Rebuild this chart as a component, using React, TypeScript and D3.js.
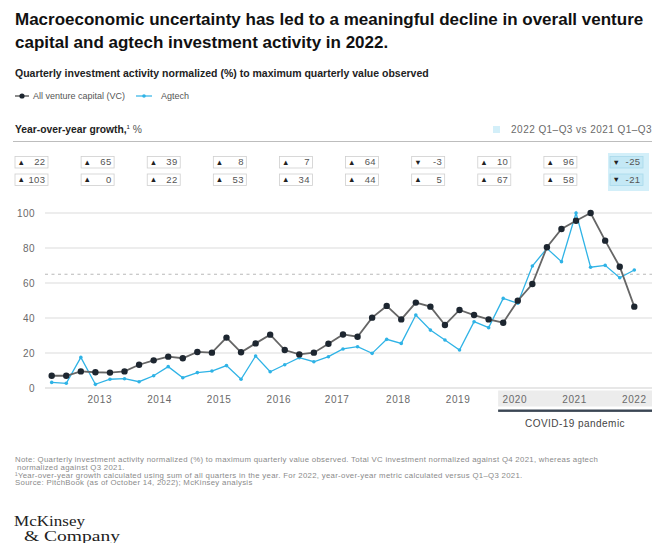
import React from "react";
import * as d3 from "d3";

const quarterLabels = d3.range(41).map((i) => {
  const q = 2 + i; // starts 2012 Q3
  return `${2012 + Math.floor(q / 4)} Q${(q % 4) + 1}`;
});
const vcValues = [7, 7, 9.5, 9, 8.8, 9.5, 13.3, 15.8, 17.9, 17, 20.6, 20.2, 28.8, 20.4, 25.5, 30.5, 21.7, 19.2, 20.2, 25.3, 30.6, 29.3, 40.2, 46.9, 39.2, 48.8, 46.5, 36, 44.6, 41.7, 39.2, 37.3, 49.9, 59.4, 80.4, 90.9, 95.6, 100, 84.2, 69.3, 46.5];
const agValues = [3.2, 2.7, 17.5, 2.1, 5, 5.3, 3.6, 7, 12.2, 5.9, 8.8, 9.7, 12.8, 5, 18.3, 9.3, 13.3, 17.3, 15, 17.9, 22.3, 23.6, 19.8, 27.8, 25.5, 41.7, 33.1, 27.4, 21.7, 37.9, 34.5, 51.2, 48.4, 69.7, 79.8, 72.2, 100, 69, 70.1, 63, 67.4];
const years = ["2013", "2014", "2015", "2016", "2017", "2018", "2019", "2020", "2021", "2022"];
const yearTickIndex = [3.3, 7.4, 11.5, 15.6, 19.6, 23.8, 27.9, 31.8, 35.9, 40];
const vcGrowth = [22, 65, 39, 8, 7, 64, -3, 10, 96, -25];
const agGrowth = [103, 0, 22, 53, 34, 44, 5, 67, 58, -21];
const yTicks = [0, 20, 40, 60, 80, 100];
const referenceLevel = 65;
const covidStartIndex = 30.65;

const FONT = "'Liberation Sans', Arial, Helvetica, sans-serif";
const SERIF = "'Liberation Serif', 'DejaVu Serif', serif";
const VC_LINE = "#666";
const VC_DOT = "#1d2630";
const AG = "#2fb3e6";
const HIGHLIGHT = "#d3eff9";
const GREY_TXT = "#6a6a6a";

export default function App() {
  const x = d3.scaleLinear().domain([0, 40]).range([51.7, 634.3]);
  const y = d3.scaleLinear().domain([0, 100]).range([388, 213]);
  const plotLeft = 45;
  const plotRight = 652;
  const line = d3
    .line<number>()
    .x((_, i) => x(i))
    .y((d) => y(d));

  const boxCol = d3.scaleLinear().domain([0, 9]).range([15, 610]);
  const boxW = 33;
  const boxH = 11.5;
  const rowY = [156.5, 174];

  const renderBox = (v: number, i: number, row: number) => {
    const bx = boxCol(i);
    const by = rowY[row];
    const last = i === 9;
    return (
      <g key={`b${row}-${i}`}>
        <rect x={bx} y={by} width={boxW} height={boxH} fill={last ? "#c4e8f5" : "#fff"} stroke={last ? "#a9d9ea" : "#cfcfcf"} strokeWidth={0.8} />
        <text x={bx + 2.5} y={by + 8.4} fontSize={7.5} fill="#222">{v < 0 ? "▼" : "▲"}</text>
        <text x={bx + boxW - 2.5} y={by + 8.9} fontSize={9.5} letterSpacing={0.4} fill="#555" textAnchor="end">{v}</text>
      </g>
    );
  };

  return (
    <svg width={664} height={543} style={{ position: "absolute", left: 0, top: 0, background: "#fff" }} fontFamily={FONT}>
      <rect width={664} height={543} fill="#fff" />
      {/* Title */}
      <text x={15} y={25} fontSize={17} fontWeight="bold" fill="#111">Macroeconomic uncertainty has led to a meaningful decline in overall venture</text>
      <text x={15} y={47.5} fontSize={17} fontWeight="bold" fill="#111">capital and agtech investment activity in 2022.</text>
      <text x={15} y={77} fontSize={10.5} fontWeight="bold" fill="#222">Quarterly investment activity normalized (%) to maximum quarterly value observed</text>

      {/* Legend */}
      <g>
        <line x1={15} x2={29} y1={96} y2={96} stroke={VC_LINE} strokeWidth={1.5} />
        <circle cx={22} cy={96} r={2.6} fill={VC_DOT} />
        <text x={33} y={99} fontSize={9} fill="#555">All venture capital (VC)</text>
        <line x1={136} x2={152} y1={96} y2={96} stroke={AG} strokeWidth={1.2} />
        <circle cx={144} cy={96} r={1.8} fill={AG} />
        <text x={161} y={99} fontSize={9} fill="#555">Agtech</text>
      </g>

      {/* YoY header */}
      <text x={15} y={133} fontSize={10.3} fill="#222">
        <tspan fontWeight="bold">Year-over-year growth,</tspan>
        <tspan fontSize={6} dy={-4}>1</tspan>
        <tspan dy={4} fill="#555"> %</tspan>
      </text>
      <rect x={493} y={126} width={7} height={7} fill={HIGHLIGHT} />
      <text x={652} y={133} fontSize={10} letterSpacing={0.45} fill={GREY_TXT} textAnchor="end">2022 Q1–Q3 vs 2021 Q1–Q3</text>
      <line x1={13} x2={652} y1={141.5} y2={141.5} stroke="#bdbdbd" strokeWidth={1} />

      {/* YoY boxes */}
      <rect x={boxCol(9) - 2} y={153} width={boxW + 8} height={38} fill={HIGHLIGHT} />
      {vcGrowth.map((v, i) => renderBox(v, i, 0))}
      {agGrowth.map((v, i) => renderBox(v, i, 1))}

      {/* Gridlines */}
      {yTicks.map((t) => (
        <g key={`g${t}`}>
          <line x1={plotLeft} x2={plotRight} y1={y(t)} y2={y(t)} stroke={t === 0 ? "#cfcfcf" : "#dcdcdc"} strokeWidth={t === 0 ? 1 : 1.2} />
          <text x={35} y={y(t) + 3.5} fontSize={10} letterSpacing={0.4} fill={GREY_TXT} textAnchor="end">{t}</text>
        </g>
      ))}
      <line x1={plotLeft} x2={plotRight} y1={y(referenceLevel)} y2={y(referenceLevel)} stroke="#b0b0b0" strokeWidth={0.9} strokeDasharray="3,3.5" />

      {/* COVID band */}
      <rect x={x(covidStartIndex)} y={390.5} width={plotRight - x(covidStartIndex)} height={16} fill="#ececec" />
      <rect x={x(covidStartIndex)} y={409.5} width={plotRight - x(covidStartIndex)} height={2.4} fill="#3b4654" />
      <text x={(x(covidStartIndex) + plotRight) / 2} y={426.5} fontSize={10} letterSpacing={0.45} fill="#444" textAnchor="middle">COVID-19 pandemic</text>

      {/* X labels */}
      {years.map((yr, i) => (
        <text key={yr} x={x(yearTickIndex[i])} y={402.5} fontSize={10} letterSpacing={0.6} fill={GREY_TXT} textAnchor="middle">{yr}</text>
      ))}

      {/* Agtech line */}
      <path d={line(agValues) || ""} fill="none" stroke={AG} strokeWidth={1.3} />
      {agValues.map((v, i) => (
        <circle key={`a${i}`} cx={x(i)} cy={y(v)} r={1.8} fill={AG}>
          <title>{quarterLabels[i]}</title>
        </circle>
      ))}

      {/* VC line */}
      <path d={line(vcValues) || ""} fill="none" stroke={VC_LINE} strokeWidth={1.8} />
      {vcValues.map((v, i) => (
        <circle key={`v${i}`} cx={x(i)} cy={y(v)} r={3.2} fill={VC_DOT}>
          <title>{quarterLabels[i]}</title>
        </circle>
      ))}

      {/* Notes */}
      <g fontSize={7.8} letterSpacing={0.3} fill="#8a8a8a">
        <text x={15} y={462}>Note: Quarterly investment activity normalized (%) to maximum quarterly value observed. Total VC investment normalized against Q4 2021, whereas agtech</text>
        <text x={17} y={469.5}>normalized against Q3 2021.</text>
        <text x={15} y={477.5}>¹Year-over-year growth calculated using sum of all quarters in the year. For 2022, year-over-year metric calculated versus Q1–Q3 2021.</text>
        <text x={15} y={485}>Source: PitchBook (as of October 14, 2022); McKinsey analysis</text>
      </g>

      {/* Logo */}
      <text x={14} y={526} fontSize={15} fill="#222" fontFamily={SERIF} textLength={71} lengthAdjust="spacingAndGlyphs">McKinsey</text>
      <text x={24} y={541} fontSize={15} fill="#222" fontFamily={SERIF} textLength={96} lengthAdjust="spacingAndGlyphs">&amp; Company</text>
    </svg>
  );
}
